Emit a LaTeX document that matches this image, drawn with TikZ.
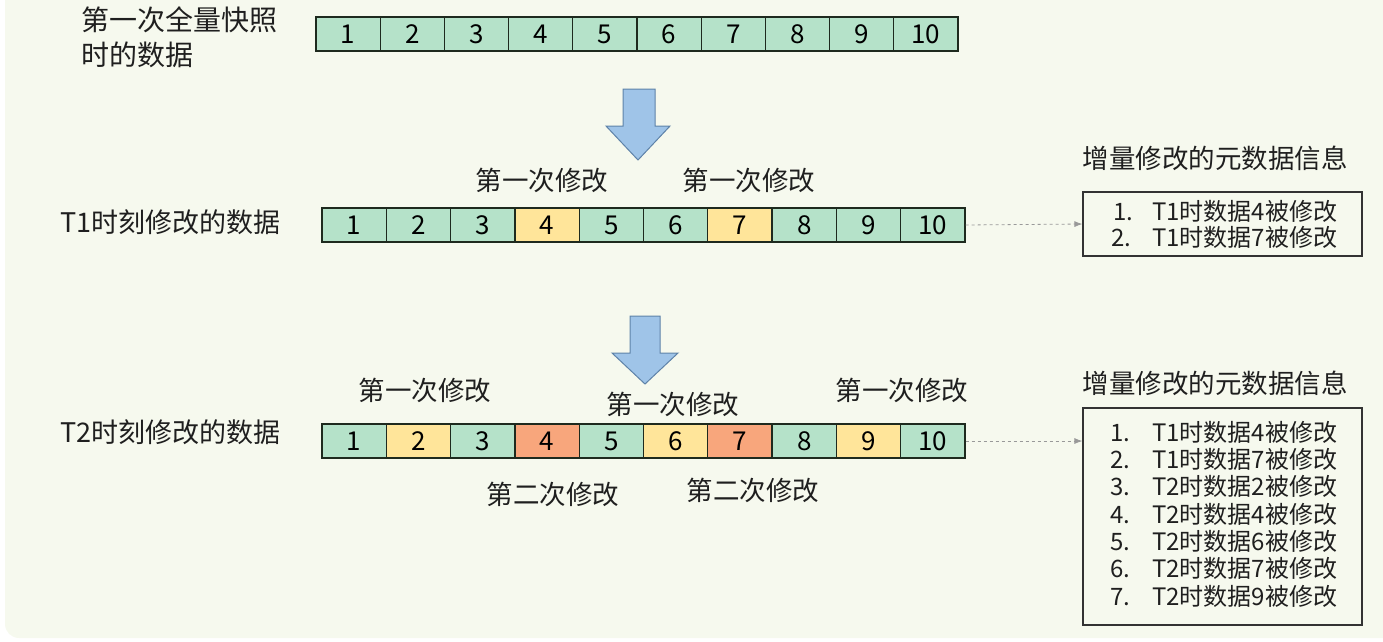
\documentclass[tikz,border=0pt]{standalone}
\usepackage{fontspec}
\setmainfont{Noto Sans CJK SC}
\usetikzlibrary{arrows.meta}
\definecolor{bgcol}{HTML}{F6F9EE}
\definecolor{cgreen}{HTML}{B5E2C9}
\definecolor{cyellow}{HTML}{FFE59A}
\definecolor{corange}{HTML}{F8A67C}
\definecolor{ablue}{HTML}{9FC4E8}
\definecolor{ablueline}{HTML}{5E82A8}
\definecolor{cline}{HTML}{1E2A1E}
\tikzset{
  cell/.style={draw=cline, line width=1.2pt, minimum width=64.2pt, minimum height=34pt,
    inner sep=0pt, font=\fontsize{26}{28}\selectfont},
  lbl/.style={inner sep=0pt, font=\fontsize{26.5}{30}\selectfont, text=black!88},
  rowlbl/.style={inner sep=0pt, font=\fontsize{27}{35}\selectfont, text=black!88},
  infobox/.style={draw=black!80, line width=1.2pt, inner sep=0pt},
  infoline/.style={anchor=base west, inner sep=0pt, font=\fontsize{24}{26}\selectfont, text=black!88},
  bigarrow/.style={fill=ablue, draw=ablueline, line width=1pt},
  link/.style={draw=gray!80, dashed, line width=0.8pt, -{Latex[length=8pt,width=6pt]}}
}
\begin{document}
\begin{tikzpicture}[x=1pt, y=-1pt]
\useasboundingbox (0,0) rectangle (1383,641);
\fill[bgcol, rounded corners=14pt] (5,-30) rectangle (1410,638);

% snapshot row
\node[rowlbl, anchor=north west, align=left, font=\fontsize{28}{35}\selectfont] (snaplbl) at (81,6) {第一次全量快照\\时的数据};
\foreach \i in {1,...,10}
  \node[cell, fill=cgreen] (a\i) at ({316+(\i-0.5)*64.2},34) {\i};

\draw[bigarrow] (623,89) -- (655,89) -- (655,126) -- (670,126) -- (638,160) -- (606,126) -- (623,126) -- cycle;

% T1 row
\node[rowlbl, anchor=west] (t1lbl) at (60,222) {T1时刻修改的数据};
\foreach \i/\c in {1/cgreen,2/cgreen,3/cgreen,4/cyellow,5/cgreen,6/cgreen,7/cyellow,8/cgreen,9/cgreen,10/cgreen}
  \node[cell, fill=\c] (b\i) at ({322+(\i-0.5)*64.3},225) {\i};
\node[lbl] (m1) at (542,180) {第一次修改};
\node[lbl] (m2) at (749,180) {第一次修改};

\node[lbl] (head1) at (1215,158) {增量修改的元数据信息};
\node[infobox, minimum width=279pt, minimum height=64pt] (box1) at (1222.5,224) {};
\node[infoline] (l11) at (1113,220) {1.};
\node[infoline] (l12) at (1152,220) {T1时数据4被修改};
\node[infoline] (l21) at (1111,246) {2.};
\node[infoline] (l22) at (1152,246) {T1时数据7被修改};
\draw[link] (b10.east) -- (box1.west);

\draw[bigarrow] (630,316) -- (660,316) -- (660,353) -- (678,353) -- (645,384) -- (612,353) -- (630,353) -- cycle;

% T2 row
\node[rowlbl, anchor=west] (t2lbl) at (60,432) {T2时刻修改的数据};
\foreach \i/\c in {1/cgreen,2/cyellow,3/cgreen,4/corange,5/cgreen,6/cyellow,7/corange,8/cgreen,9/cyellow,10/cgreen}
  \node[cell, fill=\c] (c\i) at ({322+(\i-0.5)*64.3},441) {\i};
\node[lbl] (n1) at (425,390) {第一次修改};
\node[lbl] (n2) at (673,404) {第一次修改};
\node[lbl] (n3) at (902,390) {第一次修改};
\node[lbl] (s1) at (553,494) {第二次修改};
\node[lbl] (s2) at (753,490) {第二次修改};

\node[lbl] (head2) at (1215,383) {增量修改的元数据信息};
\node[infobox, minimum width=279pt, minimum height=217pt] (box2) at (1222.5,516.5) {};
\foreach \k/\t in {1/T1时数据4被修改,2/T1时数据7被修改,3/T2时数据2被修改,4/T2时数据4被修改,5/T2时数据6被修改,6/T2时数据7被修改,7/T2时数据9被修改}{
  \node[infoline] (p\k) at (1110,{414+\k*27.3}) {\k.};
  \node[infoline] (q\k) at (1152,{414+\k*27.3}) {\t};
}
\draw[link] (c10.east) -- (c10.east -| box2.west);
\end{tikzpicture}
\end{document}
